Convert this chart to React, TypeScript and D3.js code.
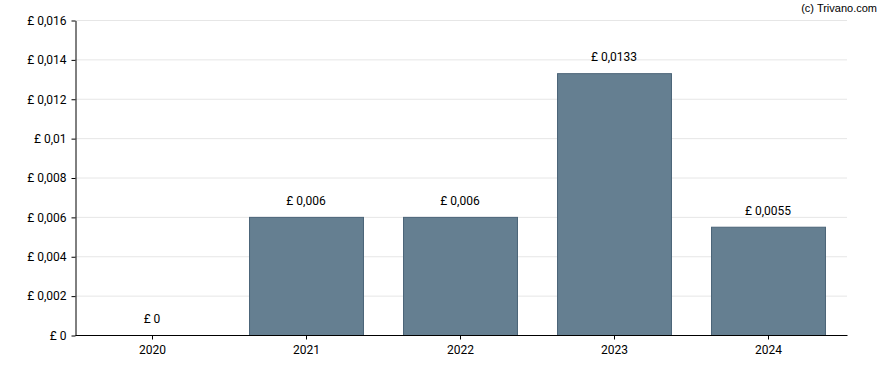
import { useEffect, useRef } from 'react';
import * as d3 from 'd3';

const years = ['2020', '2021', '2022', '2023', '2024'];
const dividends = [0, 0.006, 0.006, 0.0133, 0.0055];
const yTicks = [0, 0.002, 0.004, 0.006, 0.008, 0.01, 0.012, 0.014, 0.016];

const W = 888;
const H = 370;

const fmt = (v: number) => '£ ' + String(+v.toFixed(4)).replace('.', ',');

export default function App() {
  const ref = useRef<SVGSVGElement>(null);

  useEffect(() => {
    if (!ref.current) return;
    const svg = d3.select(ref.current);
    svg.selectAll('*').remove();

    const margin = { top: 20, right: 41, bottom: 35, left: 75 };
    const innerW = W - margin.left - margin.right;
    const innerH = H - margin.top - margin.bottom;

    const g = svg
      .append('g')
      .attr('transform', `translate(${margin.left},${margin.top})`);

    const x = d3
      .scaleBand()
      .domain(years)
      .range([0, innerW - 2])
      .paddingInner(0.26)
      .paddingOuter(0.13);
    const y = d3.scaleLinear().domain([0, 0.016]).range([innerH, 0]);

    // gridlines
    g.selectAll('line.grid')
      .data(yTicks.slice(1))
      .join('line')
      .attr('class', 'grid')
      .attr('x1', 0)
      .attr('x2', innerW)
      .attr('y1', d => y(d) + 0.5)
      .attr('y2', d => y(d) + 0.5)
      .style('stroke', '#e6e6e6');

    g.selectAll('rect.bar')
      .data(dividends)
      .join('rect')
      .attr('class', 'bar')
      .attr('x', (_, i) => x(years[i])! + 0.5)
      .attr('width', x.bandwidth())
      .attr('y', d => y(d) + 0.5)
      .attr('height', d => innerH - y(d))
      .attr('fill', '#657f91')
      .attr('stroke', '#4b6478')
      .attr('stroke-width', 1);

    g.selectAll('text.val')
      .data(dividends)
      .join('text')
      .attr('class', 'val')
      .attr('x', (_, i) => x(years[i])! + x.bandwidth() / 2)
      .attr('y', d => y(d) - 12)
      .attr('text-anchor', 'middle')
      .style('font-family', 'Roboto, sans-serif')
      .style('font-size', '12px')
      .style('fill', '#000')
      .text(d => fmt(d));

    const yAxis = g
      .append('g')
      .attr('transform', 'translate(0.5,0.5)')
      .call(d3.axisLeft(y).tickValues(yTicks).tickSize(4).tickSizeOuter(0).tickFormat(d => fmt(+d)));
    yAxis.select('.domain').style('stroke', '#000');
    yAxis
      .selectAll('text')
      .style('font-family', 'Roboto, sans-serif')
      .style('font-size', '12px')
      .style('fill', '#000')
      .attr('dx', '-2');

    const xAxis = g
      .append('g')
      .attr('transform', `translate(0.5,${innerH + 0.5})`)
      .call(d3.axisBottom(x).tickSize(4).tickSizeOuter(0));
    xAxis.select('.domain').attr('d', `M0,0H${innerW}`).style('stroke', '#000');
    xAxis
      .selectAll('text')
      .style('font-family', 'Roboto, sans-serif')
      .style('font-size', '12px')
      .style('fill', '#000')
      .attr('dy', '0.95em');

    svg
      .append('text')
      .attr('x', 877)
      .attr('y', 12)
      .attr('text-anchor', 'end')
      .style('font-family', 'Arial, "Liberation Sans", sans-serif')
      .style('font-size', '11px')
      .style('fill', '#000')
      .text('(c) Trivano.com');
  }, []);

  return (
    <svg
      ref={ref}
      width={W}
      height={H}
      style={{ position: 'absolute', left: 0, top: 0, background: '#fff' }}
    />
  );
}
